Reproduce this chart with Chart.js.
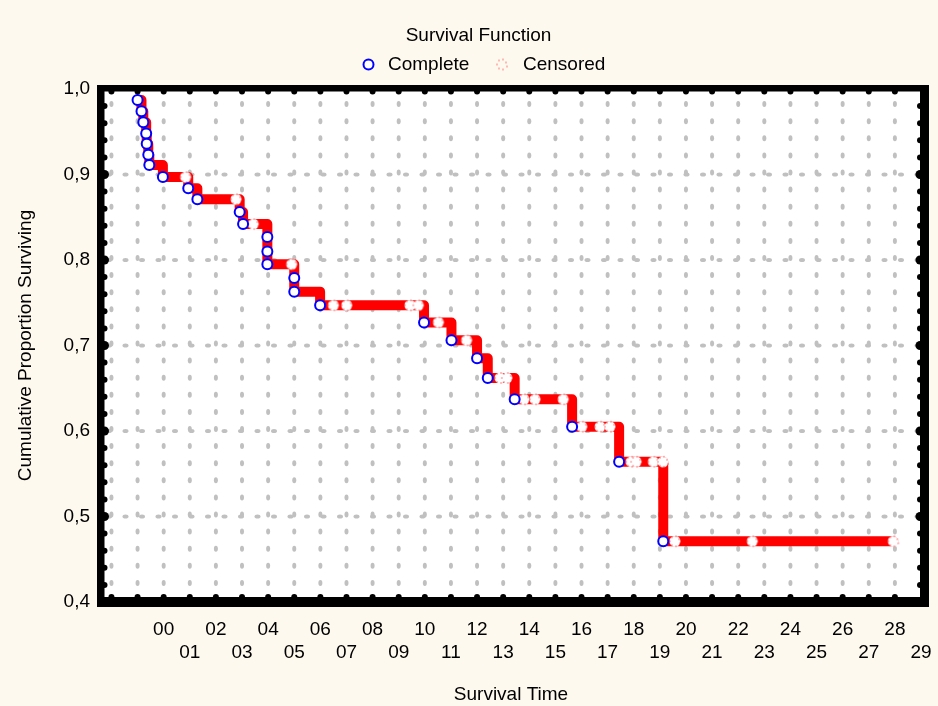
<!DOCTYPE html>
<html><head><meta charset="utf-8">
<script src="https://cdn.jsdelivr.net/npm/chart.js@4.4.1/dist/chart.umd.min.js"></script>
<style>html,body{margin:0;padding:0;background:#fef9ee;overflow:hidden;}</style>
</head><body>
<canvas id="c" width="938" height="706"></canvas>
<script>
// ---- data ----
const completeTimes = [-1.00, -0.85, -0.78, -0.67, -0.65, -0.59, -0.55, -0.03, 0.94, 1.29, 2.91, 3.04, 3.97, 3.97, 3.97, 5.00, 5.00, 5.99, 9.97, 11.02, 12.00, 12.41, 13.44, 15.64, 17.44, 19.13];
const completeSurv  = [0.987, 0.974, 0.961, 0.948, 0.936, 0.923, 0.911, 0.897, 0.884, 0.871, 0.856, 0.842, 0.827, 0.810, 0.795, 0.779, 0.763, 0.747, 0.727, 0.706, 0.685, 0.662, 0.637, 0.605, 0.564, 0.471];
const censoredTimes = [0.84, 2.77, 3.43, 4.90, 6.50, 7.01, 9.43, 9.75, 10.52, 11.60, 12.88, 13.14, 13.80, 14.22, 15.30, 16.01, 16.71, 17.09, 17.90, 18.09, 18.75, 19.12, 19.58, 22.54, 27.94];
const censoredSurv  = [0.897, 0.871, 0.842, 0.795, 0.747, 0.747, 0.747, 0.747, 0.727, 0.706, 0.662, 0.662, 0.637, 0.637, 0.637, 0.605, 0.605, 0.605, 0.564, 0.564, 0.564, 0.564, 0.471, 0.471, 0.471];
const xTickLabels = ['00','01','02','03','04','05','06','07','08','09','10','11','12','13','14','15','16','17','18','19','20','21','22','23','24','25','26','27','28','29'];
const yTickLabels = ['0,4','0,5','0,6','0,7','0,8','0,9','1,0'];
const chartTitle = 'Survival Function';
const seriesNames = ['Complete', 'Censored'];
const xTitle = 'Survival Time';
const yTitle = 'Cumulative Proportion Surviving';

const FONT = "'Liberation Sans', Arial, sans-serif";
const BG = '#fef9ee';

function makeCensoredMarker(withFill) {
  const c = document.createElement('canvas'); c.width = 14; c.height = 14;
  const g = c.getContext('2d');
  if (withFill) { g.fillStyle = '#ffffff'; g.beginPath(); g.arc(7, 7, 5.5, 0, Math.PI * 2); g.fill(); }
  g.fillStyle = '#ff0000';
  for (let i = 0; i < 7; i++) {
    const a = i * Math.PI * 2 / 7 + 0.4;
    g.fillRect(Math.round(7 + 5 * Math.cos(a)) - 0.5, Math.round(7 + 5 * Math.sin(a)) - 0.5, 1, 1);
  }
  return c;
}
const censoredMarker = makeCensoredMarker(true);
const legendCensoredMarker = makeCensoredMarker(false);

const completePts = completeTimes.map((t, i) => ({x: t, y: completeSurv[i]}));
const censoredPts = censoredTimes.map((t, i) => ({x: t, y: censoredSurv[i]}));
const linePts = completePts.concat(censoredPts).sort((a, b) => (a.x - b.x) || (b.y - a.y));

const bgPlugin = {
  id: 'bg',
  beforeDraw(chart) {
    const ctx = chart.ctx;
    ctx.save(); ctx.fillStyle = BG; ctx.fillRect(0, 0, chart.width, chart.height); ctx.restore();
  },
  beforeDatasetsDraw(chart) {
    const {ctx, chartArea: a, scales: {x, y}} = chart;
    ctx.save();
    ctx.fillStyle = '#ffffff';
    ctx.fillRect(a.left, a.top, a.right - a.left, a.bottom - a.top);
    ctx.fillStyle = '#c0c0c0';
    // vertical dotted grid at each integer time
    for (let k = Math.ceil(x.min); k <= Math.floor(x.max) - 1; k++) {
      const px = x.getPixelForValue(k);
      for (let v = 0.42; v < 0.995; v += 0.02) {
        const py = y.getPixelForValue(v) - 2;
        ctx.beginPath(); ctx.ellipse(px, py, 2, 3, 0, 0, Math.PI * 2); ctx.fill();
      }
    }
    // horizontal dotted grid at major values
    for (let v = 0.5; v < 0.95; v += 0.1) {
      const py = y.getPixelForValue(v);
      for (let px = a.left + 8; px < a.right - 3; px += 16.5) {
        ctx.beginPath(); ctx.ellipse(px, py, 3, 2, 0, 0, Math.PI * 2); ctx.fill();
      }
    }
    ctx.restore();
  },
  afterDatasetsDraw(chart) {
    const {ctx, chartArea: a, scales: {x, y}} = chart;
    const Lo = a.left - 4, Li = a.left + 3.5, To = a.top - 4, Ti = a.top + 2.5;
    const Ro = a.right + 8, Ri = a.right - 1, Bo = a.bottom + 5, Bi = a.bottom - 5;
    ctx.save();
    ctx.fillStyle = '#000000';
    ctx.fillRect(Lo, To, Ro - Lo, Ti - To);
    ctx.fillRect(Lo, Bi, Ro - Lo, Bo - Bi);
    ctx.fillRect(Lo, To, Li - Lo, Bo - To);
    ctx.fillRect(Ri, To, Ro - Ri, Bo - To);
    for (let k = Math.ceil(x.min); k <= Math.floor(x.max) - 1; k++) {
      const px = x.getPixelForValue(k);
      ctx.beginPath(); ctx.arc(px, Ti, 3, 0, Math.PI * 2); ctx.fill();
      ctx.beginPath(); ctx.arc(px, Bi, 3, 0, Math.PI * 2); ctx.fill();
    }
    for (let i = 1; i < 30; i++) {
      const v = 0.4 + i * 0.02;
      const py = y.getPixelForValue(v);
      const r = (i % 5 === 0) ? 4.5 : 3;
      ctx.beginPath(); ctx.arc(Li, py, r, 0, Math.PI * 2); ctx.fill();
      ctx.beginPath(); ctx.arc(Ri, py, r, 0, Math.PI * 2); ctx.fill();
    }
    ctx.restore();
  },
  afterDraw(chart) {
    const ctx = chart.ctx;
    ctx.save();
    ctx.fillStyle = '#000000';
    ctx.font = '19px ' + FONT;
    ctx.textBaseline = 'middle';
    ctx.textAlign = 'center';
    ctx.fillText(chartTitle, 478.5, 35.5);
    ctx.textAlign = 'left';
    ctx.fillText(seriesNames[0], 388, 64.5);
    ctx.fillText(seriesNames[1], 523, 64.5);
    ctx.strokeStyle = '#0000ff'; ctx.lineWidth = 2; ctx.fillStyle = '#ffffff';
    ctx.beginPath(); ctx.arc(368.5, 64.5, 5, 0, Math.PI * 2); ctx.fill(); ctx.stroke();
    ctx.drawImage(legendCensoredMarker, 502 - 7, 64.5 - 7);
    ctx.restore();
  }
};

new Chart(document.getElementById('c'), {
  type: 'scatter',
  data: {
    datasets: [
      {label: seriesNames[0], data: completePts, showLine: false, pointRadius: 5, pointHoverRadius: 5,
       borderWidth: 2, borderColor: '#0000ff', backgroundColor: '#ffffff'},
      {label: seriesNames[1], data: censoredPts, showLine: false, pointStyle: censoredMarker, pointRadius: 6},
      {type: 'line', label: 'curve', data: linePts, stepped: true, borderColor: '#ff0000', borderWidth: 10,
       borderJoinStyle: 'round', borderCapStyle: 'round', pointRadius: 0, fill: false, tension: 0}
    ]
  },
  options: {
    responsive: false, animation: false, devicePixelRatio: 1,
    layout: {padding: {left: 0, right: 17, top: 89, bottom: 0}},
    plugins: {legend: {display: false}, title: {display: false}, tooltip: {enabled: false}},
    scales: {
      x: {
        type: 'linear', min: -2.4, max: 29,
        grid: {display: false, drawTicks: false}, border: {display: false},
        afterFit(s) { s.height = 104; s.paddingLeft = 0; s.paddingRight = 0; },
        ticks: {
          stepSize: 1, autoSkip: false, maxRotation: 0, minRotation: 0, padding: 16.5,
          color: '#000000', font: {family: FONT, size: 19, lineHeight: 1.2},
          callback(v) {
            if (v < 0 || !Number.isInteger(v)) return '';
            const s = xTickLabels[v];
            return v % 2 === 0 ? s : ['', s];
          }
        },
        title: {display: true, text: xTitle, color: '#000000', font: {family: FONT, size: 19, lineHeight: 1.2}, padding: {top: 0, bottom: 0}}
      },
      y: {
        type: 'linear', min: 0.4, max: 1.0,
        grid: {display: false, drawTicks: false}, border: {display: false},
        afterFit(s) { s.width = 101; },
        ticks: {
          stepSize: 0.1, padding: 11, color: '#000000', font: {family: FONT, size: 19},
          callback(v) { const i = Math.round((v - 0.4) * 10); return yTickLabels[i]; }
        },
        title: {display: true, text: yTitle, color: '#000000', font: {family: FONT, size: 19, lineHeight: 1.2}, padding: {top: 14, bottom: 0}}
      }
    }
  },
  plugins: [bgPlugin]
});
</script>
</body></html>
